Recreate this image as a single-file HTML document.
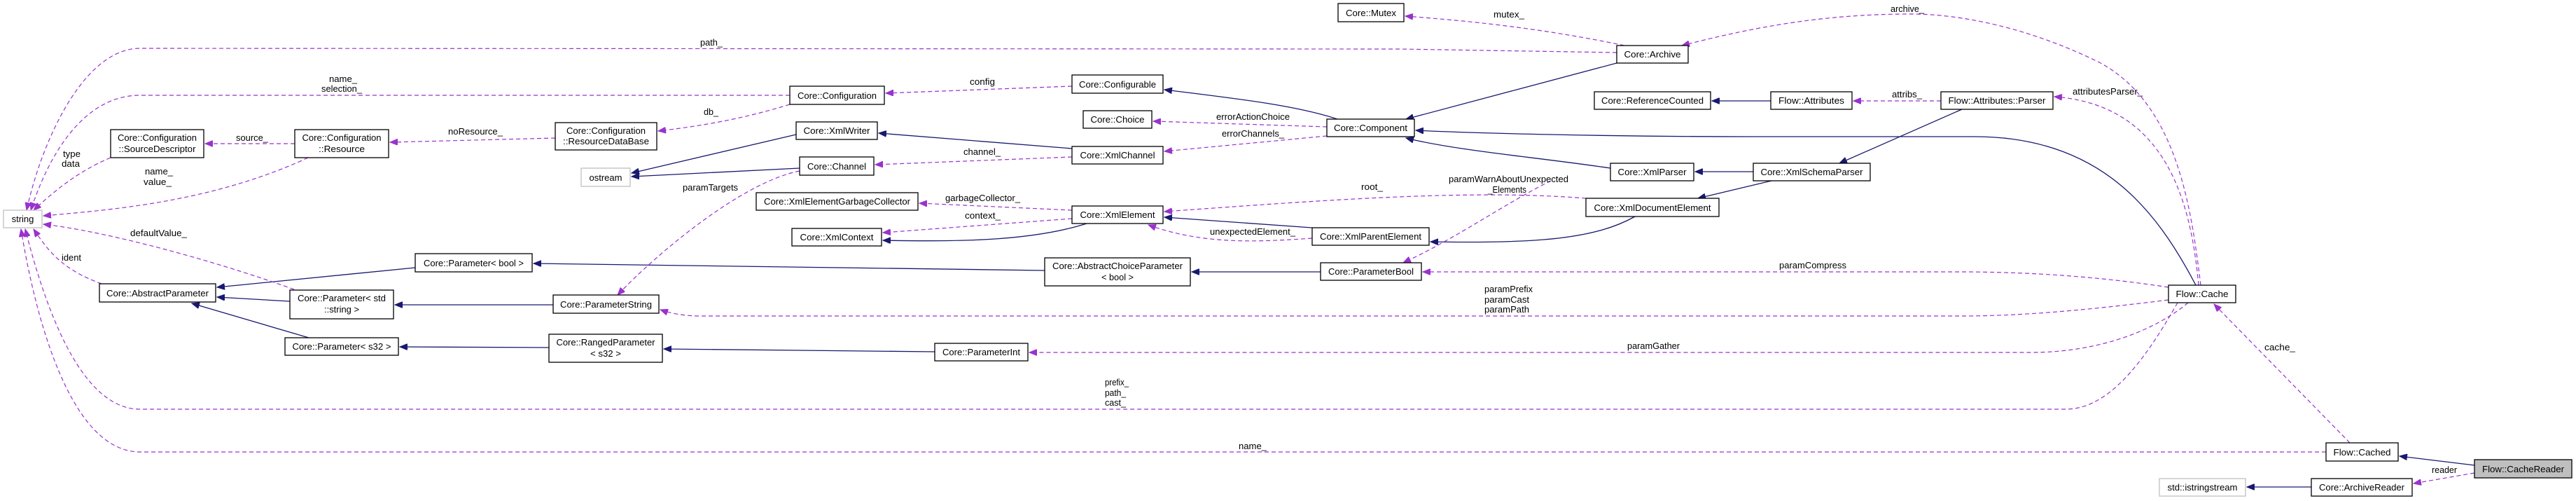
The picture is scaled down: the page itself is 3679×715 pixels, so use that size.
<!DOCTYPE html>
<html><head><meta charset="utf-8"><style>
html,body{margin:0;padding:0;background:#fff;}
svg{display:block;}
text{font-family:"Liberation Sans",sans-serif;font-size:13px;fill:#000;}
.n{fill:#fff;stroke:#000;stroke-width:1.3;}
.g{fill:#fff;stroke:#bfbfbf;stroke-width:1.3;}
.s{fill:none;stroke:#191970;stroke-width:1.3;marker-end:url(#ab);}
.d{fill:none;stroke:#9a32cd;stroke-width:1.2;stroke-dasharray:6,4;marker-end:url(#ap);}
</style></head><body>
<svg width="3679" height="715" viewBox="0 0 3679 715" xmlns="http://www.w3.org/2000/svg">
<defs>
<marker id="ab" markerWidth="12" markerHeight="9" refX="11" refY="4.5" orient="auto" markerUnits="userSpaceOnUse"><path d="M0,0 L11,4.5 L0,9 z" fill="#191970" stroke="#191970" stroke-dasharray="none"/></marker>
<marker id="ap" markerWidth="12" markerHeight="9" refX="11" refY="4.5" orient="auto" markerUnits="userSpaceOnUse"><path d="M0,0 L11,4.5 L0,9 z" fill="#9a32cd" stroke="#9a32cd" stroke-dasharray="none"/></marker>
</defs>

<!-- solid inheritance edges -->
<path class="s" d="M1137,192 L902,247"/>
<path class="s" d="M1142,240 L902,252"/>
<path class="s" d="M1910,170 C1850,150 1760,140 1663,128"/>
<path class="s" d="M1531,212 L1255,190"/>
<path class="s" d="M2309,90 L2008,170"/>
<path class="s" d="M2300,240 C2200,225 2080,215 2008,197"/>
<path class="s" d="M3136,407 C3080,300 3000,195 2820,195 L2500,195 C2300,195 2100,190 2022,186"/>
<path class="s" d="M2529,144 L2445,144"/>
<path class="s" d="M2802,156 L2627,233"/>
<path class="s" d="M2504,245 L2421,245"/>
<path class="s" d="M2530,258 L2425,283"/>
<path class="s" d="M2335,309 C2280,340 2200,348 2043,345"/>
<path class="s" d="M1874,325 L1663,310"/>
<path class="s" d="M1552,319 C1470,345 1360,345 1261,343"/>
<path class="s" d="M1886,388 L1702,388"/>
<path class="s" d="M1492,386 L762,376"/>
<path class="s" d="M593,382 L310,410"/>
<path class="s" d="M414,430 L310,424"/>
<path class="s" d="M441,482 L274,433"/>
<path class="s" d="M790,435 L564,435"/>
<path class="s" d="M784,496 L571,495"/>
<path class="s" d="M1335,502 L948,498"/>
<path class="s" d="M3534,664 L3427,651"/>
<path class="s" d="M3301,695 L3209,695"/>

<!-- dashed member edges -->
<path class="d" d="M2309,75 L2000,70 L200,69 C120,69 60,200 38,300"/>
<path class="d" d="M1128,136 L200,136 C120,136 70,220 44,300"/>
<path class="d" d="M158,225 C110,245 75,275 48,300"/>
<path class="d" d="M440,225 C300,290 150,300 62,308"/>
<path class="d" d="M420,413 C300,370 150,330 62,320"/>
<path class="d" d="M145,405 C90,385 70,360 48,327"/>
<path class="d" d="M3110,432 C3060,520 3010,584 2950,584 L200,584 C110,584 60,420 36,327"/>
<path class="d" d="M3322,645 L200,645 C100,645 50,450 30,327"/>
<path class="d" d="M421,205 L293,205"/>
<path class="d" d="M793,197 L557,203"/>
<path class="d" d="M1128,149 C1060,170 1000,180 940,187"/>
<path class="d" d="M1531,123 L1265,133"/>
<path class="d" d="M1895,181 L1647,173"/>
<path class="d" d="M1895,194 L1663,216"/>
<path class="d" d="M1531,224 L1250,235"/>
<path class="d" d="M1142,244 C1060,260 940,360 882,421"/>
<path class="d" d="M1531,300 L1313,290"/>
<path class="d" d="M1531,312 L1261,332"/>
<path class="d" d="M1874,340 C1800,345 1720,350 1640,321"/>
<path class="d" d="M2265,283 C2100,270 1900,285 1663,302"/>
<path class="d" d="M2215,258 C2150,290 2080,340 2004,375"/>
<path class="d" d="M2320,65 C2200,40 2100,30 2007,23"/>
<path class="d" d="M3143,407 C3130,300 3110,150 3000,90 C2900,40 2800,20 2730,20 C2600,20 2500,40 2402,65"/>
<path class="d" d="M2772,144 L2647,144"/>
<path class="d" d="M3140,407 C3130,300 3100,150 2934,138"/>
<path class="d" d="M3097,410 C3000,395 2900,388 2800,388 L2032,388"/>
<path class="d" d="M3097,428 C3000,440 2900,451 2800,451 L1000,451 C980,451 960,448 943,442"/>
<path class="d" d="M3125,432 C3080,470 3000,503 2900,503 L1470,503"/>
<path class="d" d="M3356,632 L3162,434"/>
<path class="d" d="M3534,675 L3447,690"/>

<!-- edge labels -->
<text x="1000" y="65" textLength="32" lengthAdjust="spacingAndGlyphs">path_</text>
<text x="470" y="117" textLength="40" lengthAdjust="spacingAndGlyphs">name_</text>
<text x="459" y="131" textLength="58" lengthAdjust="spacingAndGlyphs">selection_</text>
<text x="90" y="224" textLength="25" lengthAdjust="spacingAndGlyphs">type</text>
<text x="88" y="238" textLength="26" lengthAdjust="spacingAndGlyphs">data</text>
<text x="337" y="201" textLength="46" lengthAdjust="spacingAndGlyphs">source_</text>
<text x="640" y="192" textLength="78" lengthAdjust="spacingAndGlyphs">noResource_</text>
<text x="207" y="249" textLength="40" lengthAdjust="spacingAndGlyphs">name_</text>
<text x="205" y="264" textLength="40" lengthAdjust="spacingAndGlyphs">value_</text>
<text x="186" y="337" textLength="81" lengthAdjust="spacingAndGlyphs">defaultValue_</text>
<text x="88" y="372" textLength="28" lengthAdjust="spacingAndGlyphs">ident</text>
<text x="1385" y="121" textLength="36" lengthAdjust="spacingAndGlyphs">config</text>
<text x="1005" y="164" textLength="21" lengthAdjust="spacingAndGlyphs">db_</text>
<text x="1737" y="171" textLength="105" lengthAdjust="spacingAndGlyphs">errorActionChoice</text>
<text x="1745" y="195" textLength="89" lengthAdjust="spacingAndGlyphs">errorChannels_</text>
<text x="1376" y="221" textLength="53" lengthAdjust="spacingAndGlyphs">channel_</text>
<text x="975" y="272" textLength="79" lengthAdjust="spacingAndGlyphs">paramTargets</text>
<text x="1350" y="287" textLength="107" lengthAdjust="spacingAndGlyphs">garbageCollector_</text>
<text x="1378" y="312" textLength="51" lengthAdjust="spacingAndGlyphs">context_</text>
<text x="1944" y="271" textLength="31" lengthAdjust="spacingAndGlyphs">root_</text>
<text x="1728" y="335" textLength="122" lengthAdjust="spacingAndGlyphs">unexpectedElement_</text>
<text x="1578" y="550" textLength="34" lengthAdjust="spacingAndGlyphs">prefix_</text>
<text x="1578" y="565" textLength="30" lengthAdjust="spacingAndGlyphs">path_</text>
<text x="1578" y="579" textLength="30" lengthAdjust="spacingAndGlyphs">cast_</text>
<text x="1769" y="641" textLength="40" lengthAdjust="spacingAndGlyphs">name_</text>
<text x="2133" y="25" textLength="44" lengthAdjust="spacingAndGlyphs">mutex_</text>
<text x="2700" y="17" textLength="48" lengthAdjust="spacingAndGlyphs">archive_</text>
<text x="2702" y="139" textLength="43" lengthAdjust="spacingAndGlyphs">attribs_</text>
<text x="2960" y="135" textLength="100" lengthAdjust="spacingAndGlyphs">attributesParser_</text>
<text x="2069" y="260" textLength="171" lengthAdjust="spacingAndGlyphs">paramWarnAboutUnexpected</text>
<text x="2125" y="275" textLength="55" lengthAdjust="spacingAndGlyphs">_Elements</text>
<text x="2541" y="383" textLength="96" lengthAdjust="spacingAndGlyphs">paramCompress</text>
<text x="2120" y="417" textLength="69" lengthAdjust="spacingAndGlyphs">paramPrefix</text>
<text x="2120" y="432" textLength="64" lengthAdjust="spacingAndGlyphs">paramCast</text>
<text x="2120" y="446" textLength="64" lengthAdjust="spacingAndGlyphs">paramPath</text>
<text x="2324" y="498" textLength="75" lengthAdjust="spacingAndGlyphs">paramGather</text>
<text x="3234" y="500" textLength="44" lengthAdjust="spacingAndGlyphs">cache_</text>
<text x="3473" y="675" textLength="36" lengthAdjust="spacingAndGlyphs">reader</text>

<!-- nodes -->
<g text-anchor="middle">
<rect class="g" x="5" y="300" width="55" height="25"/><text x="32.5" y="317">string</text>
<rect class="n" x="158" y="185" width="133" height="40"/><text x="224.5" y="201" textLength="113" lengthAdjust="spacingAndGlyphs">Core::Configuration</text><text x="224.5" y="217" textLength="110" lengthAdjust="spacingAndGlyphs">::SourceDescriptor</text>
<rect class="n" x="421" y="185" width="134" height="40"/><text x="488" y="201" textLength="113" lengthAdjust="spacingAndGlyphs">Core::Configuration</text><text x="488" y="217" textLength="66" lengthAdjust="spacingAndGlyphs">::Resource</text>
<rect class="n" x="793" y="175" width="145" height="39"/><text x="865.5" y="191" textLength="113" lengthAdjust="spacingAndGlyphs">Core::Configuration</text><text x="865.5" y="206" textLength="123" lengthAdjust="spacingAndGlyphs">::ResourceDataBase</text>
<rect class="g" x="830" y="240" width="70" height="26"/><text x="865" y="258">ostream</text>
<rect class="n" x="593" y="362" width="167" height="26"/><text x="676.5" y="380" textLength="143" lengthAdjust="spacingAndGlyphs">Core::Parameter&lt; bool &gt;</text>
<rect class="n" x="142" y="405" width="166" height="26"/><text x="225" y="423" textLength="146" lengthAdjust="spacingAndGlyphs">Core::AbstractParameter</text>
<rect class="n" x="414" y="414" width="148" height="41"/><text x="488" y="430" textLength="126" lengthAdjust="spacingAndGlyphs">Core::Parameter&lt; std</text><text x="488" y="446" textLength="50" lengthAdjust="spacingAndGlyphs">::string &gt;</text>
<rect class="n" x="790" y="421" width="151" height="26"/><text x="865.5" y="439" textLength="131" lengthAdjust="spacingAndGlyphs">Core::ParameterString</text>
<rect class="n" x="407" y="482" width="162" height="25"/><text x="488" y="499" textLength="141" lengthAdjust="spacingAndGlyphs">Core::Parameter&lt; s32 &gt;</text>
<rect class="n" x="784" y="477" width="162" height="40"/><text x="865" y="493" textLength="141" lengthAdjust="spacingAndGlyphs">Core::RangedParameter</text><text x="865" y="509" textLength="44" lengthAdjust="spacingAndGlyphs">&lt; s32 &gt;</text>
<rect class="n" x="1911" y="5" width="94" height="26"/><text x="1958" y="23" textLength="72" lengthAdjust="spacingAndGlyphs">Core::Mutex</text>
<rect class="n" x="1128" y="123" width="135" height="26"/><text x="1195.5" y="141" textLength="113" lengthAdjust="spacingAndGlyphs">Core::Configuration</text>
<rect class="n" x="1531" y="107" width="130" height="26"/><text x="1596" y="125" textLength="110" lengthAdjust="spacingAndGlyphs">Core::Configurable</text>
<rect class="n" x="1547" y="158" width="98" height="25"/><text x="1596" y="175" textLength="77" lengthAdjust="spacingAndGlyphs">Core::Choice</text>
<rect class="n" x="1895" y="170" width="125" height="25"/><text x="1957.5" y="187" textLength="105" lengthAdjust="spacingAndGlyphs">Core::Component</text>
<rect class="n" x="1137" y="174" width="116" height="25"/><text x="1195" y="191" textLength="95" lengthAdjust="spacingAndGlyphs">Core::XmlWriter</text>
<rect class="n" x="1531" y="209" width="130" height="25"/><text x="1596" y="226" textLength="107" lengthAdjust="spacingAndGlyphs">Core::XmlChannel</text>
<rect class="n" x="1142" y="224" width="106" height="26"/><text x="1195" y="242" textLength="84" lengthAdjust="spacingAndGlyphs">Core::Channel</text>
<rect class="n" x="1080" y="275" width="231" height="25"/><text x="1195.5" y="292" textLength="209" lengthAdjust="spacingAndGlyphs">Core::XmlElementGarbageCollector</text>
<rect class="n" x="1531" y="294" width="130" height="25"/><text x="1596" y="311" textLength="107" lengthAdjust="spacingAndGlyphs">Core::XmlElement</text>
<rect class="n" x="1131" y="326" width="128" height="25"/><text x="1195" y="343" textLength="105" lengthAdjust="spacingAndGlyphs">Core::XmlContext</text>
<rect class="n" x="1874" y="325" width="167" height="25"/><text x="1957.5" y="342" textLength="145" lengthAdjust="spacingAndGlyphs">Core::XmlParentElement</text>
<rect class="n" x="1492" y="368" width="208" height="40"/><text x="1596" y="384" textLength="186" lengthAdjust="spacingAndGlyphs">Core::AbstractChoiceParameter</text><text x="1596" y="400" textLength="46" lengthAdjust="spacingAndGlyphs">&lt; bool &gt;</text>
<rect class="n" x="1886" y="375" width="144" height="25"/><text x="1958" y="392" textLength="122" lengthAdjust="spacingAndGlyphs">Core::ParameterBool</text>
<rect class="n" x="1335" y="490" width="133" height="25"/><text x="1401.5" y="507" textLength="111" lengthAdjust="spacingAndGlyphs">Core::ParameterInt</text>
<rect class="n" x="2309" y="65" width="102" height="25"/><text x="2360" y="82" textLength="81" lengthAdjust="spacingAndGlyphs">Core::Archive</text>
<rect class="n" x="2277" y="131" width="166" height="25"/><text x="2360" y="148" textLength="146" lengthAdjust="spacingAndGlyphs">Core::ReferenceCounted</text>
<rect class="n" x="2529" y="131" width="116" height="25"/><text x="2587" y="148" textLength="94" lengthAdjust="spacingAndGlyphs">Flow::Attributes</text>
<rect class="n" x="2772" y="131" width="160" height="25"/><text x="2852" y="148" textLength="139" lengthAdjust="spacingAndGlyphs">Flow::Attributes::Parser</text>
<rect class="n" x="2300" y="233" width="119" height="25"/><text x="2359.5" y="250" textLength="98" lengthAdjust="spacingAndGlyphs">Core::XmlParser</text>
<rect class="n" x="2504" y="233" width="167" height="25"/><text x="2587.5" y="250" textLength="146" lengthAdjust="spacingAndGlyphs">Core::XmlSchemaParser</text>
<rect class="n" x="2265" y="283" width="190" height="26"/><text x="2360" y="301" textLength="167" lengthAdjust="spacingAndGlyphs">Core::XmlDocumentElement</text>
<rect class="n" x="3097" y="407" width="96" height="25"/><text x="3145" y="424" textLength="75" lengthAdjust="spacingAndGlyphs">Flow::Cache</text>
<rect class="n" x="3322" y="632" width="103" height="26"/><text x="3373.5" y="650" textLength="82" lengthAdjust="spacingAndGlyphs">Flow::Cached</text>
<rect x="3534" y="656" width="139" height="26" fill="#bfbfbf" stroke="#000" stroke-width="1.3"/><text x="3603.5" y="674" textLength="117" lengthAdjust="spacingAndGlyphs">Flow::CacheReader</text>
<rect class="n" x="3301" y="683" width="144" height="25"/><text x="3373" y="700" textLength="122" lengthAdjust="spacingAndGlyphs">Core::ArchiveReader</text>
<rect class="g" x="3084" y="683" width="123" height="25"/><text x="3145.5" y="700" textLength="100" lengthAdjust="spacingAndGlyphs">std::istringstream</text>
</g>
</svg>
</body></html>
